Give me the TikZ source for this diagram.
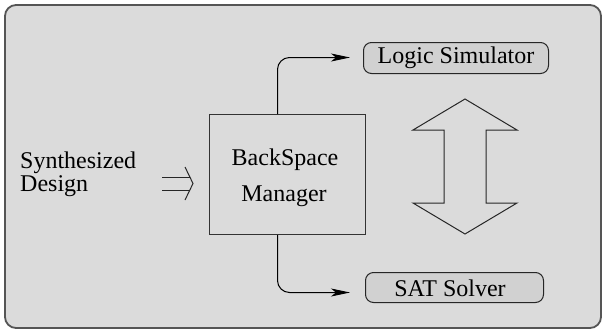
\documentclass[tikz,border=0pt]{standalone}
\usepackage{fontspec}
\newfontfamily\tmsfont{Liberation Serif}
\usetikzlibrary{arrows.meta}
\definecolor{bg}{HTML}{DBDBDB}
\definecolor{boxfill}{HTML}{D1D1D1}
\definecolor{frame}{HTML}{555555}
\tikzset{
  lbl/.style={inner sep=0pt},
  rbox/.style={draw=black!85, fill=boxfill, rounded corners=8pt, line width=1pt, anchor=north west, inner sep=0pt},
  mbox/.style={draw=black!80, line width=1pt, anchor=north west, inner sep=0pt},
  conn/.style={draw=black, line width=1pt, rounded corners=12pt, -{Stealth[length=19pt,width=8pt,inset=5pt]}},
  outline/.style={draw=black!85, line width=1pt}}
\newcommand{\lb}[1]{\tmsfont\fontsize{24}{28}\selectfont #1}
\begin{document}
\begin{tikzpicture}[x=1pt,y=-1pt]
\useasboundingbox (0,0) rectangle (603,333);
\draw[fill=bg, draw=frame, line width=1.8pt, rounded corners=11pt] (5,5) rectangle (601,328);
% nodes
\node[mbox, minimum width=156pt, minimum height=120pt] (bsm) at (209,114) {};
\node[lbl] (bsmtxt1) at (285,160) {\lb{BackSpace}};
\node[lbl] (bsmtxt2) at (284,196) {\lb{Manager}};
\node[rbox, minimum width=185pt, minimum height=31pt] (ls) at (363,42) {};
\node[lbl] (lstxt) at (456,58) {\lb{Logic Simulator}};
\node[rbox, minimum width=178pt, minimum height=30pt] (sat) at (365,272) {};
\node[lbl] (sattxt) at (450,288) {\lb{SAT Solver}};
\node[lbl, anchor=west] (syn1) at (20,163) {\lb{Synthesized}};
\node[lbl, anchor=west] (syn2) at (20,186) {\lb{Design}};
% connectors
\draw[conn] ([xshift=-10pt]bsm.north) |- ([xshift=-13pt,yshift=0.5pt]ls.west);
\draw[conn] ([xshift=-10pt]bsm.south) |- ([xshift=-15pt,yshift=-5pt]sat.west);
% input double arrow
\coordinate (ia) at (162,177);
\coordinate (ib) at (162,190);
\draw[outline] (ia) -- (190,177);
\draw[outline] (ib) -- (190,190);
\draw[outline] (185,167) -- (193,183.5) -- (185,200);
% big double arrow
\draw[outline, line join=miter] (465,99) -- (517,130) -- (486,130) -- (486,203) -- (517,203) -- (465,234)
  -- (413,203) -- (444,203) -- (444,130) -- (413,130) -- cycle;
\end{tikzpicture}
\end{document}
